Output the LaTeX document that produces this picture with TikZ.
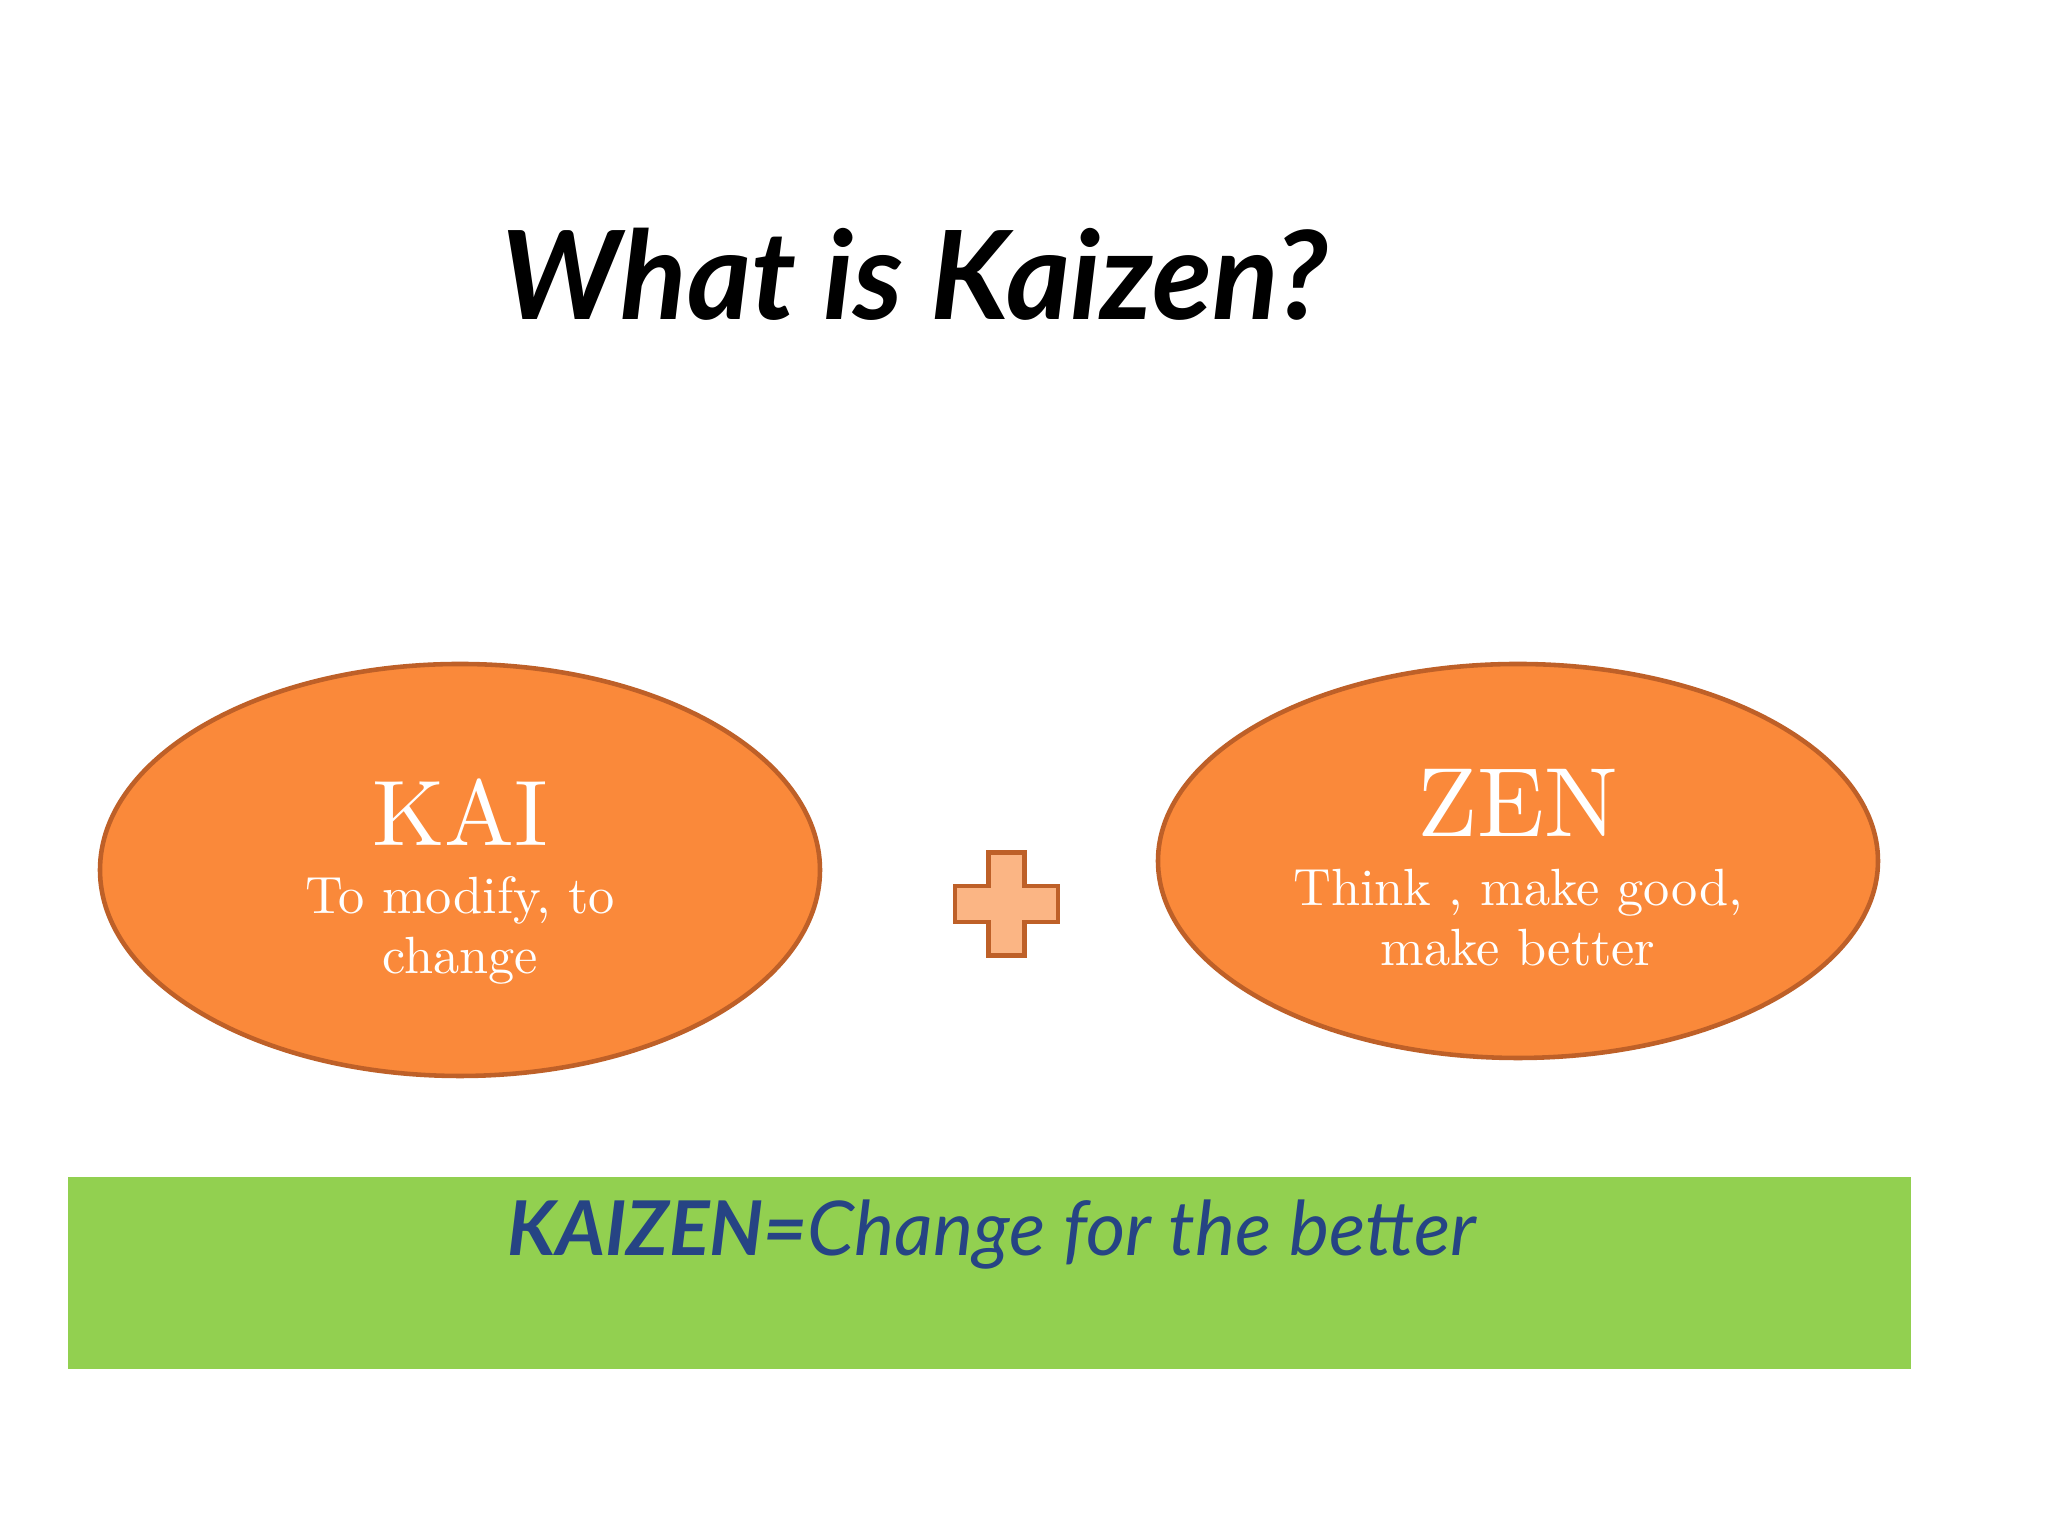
\documentclass[tikz,border=0pt]{standalone}
\usepackage{fontspec}
\newfontfamily\lmten{lmroman10-regular.otf}
\newfontfamily\lato{Lato}
\usetikzlibrary{shapes.geometric,calc}
\definecolor{orfill}{RGB}{250,137,58}
\definecolor{ordraw}{RGB}{190,96,40}
\definecolor{plusfill}{RGB}{251,181,132}
\definecolor{barfill}{RGB}{146,208,80}
\definecolor{bluetxt}{RGB}{38,68,132}
\tikzset{
  oval/.style={ellipse, fill=orfill, draw=ordraw, line width=1.3pt, inner sep=0pt},
  bigword/.style={text=white, anchor=base, font=\lmten\fontsize{28}{32}\selectfont},
  smallword/.style={text=white, anchor=base, font=\lmten\fontsize{14.9}{18}\selectfont},
}
\begin{document}
\begin{tikzpicture}[x=1cm,y=1cm]
\useasboundingbox (0,0) rectangle (20.48,15.36);
\fill[white] (0,0) rectangle (20.48,15.36);
% title
\node[anchor=base, font=\lato\bfseries\itshape\fontsize{35}{40}\selectfont] (title) at (9.15,12.16) {What is Kaizen?};
% ellipses
\node[oval, minimum width=7.20cm, minimum height=4.12cm] (kai) at (4.60,6.66) {};
\node[oval, minimum width=7.20cm, minimum height=3.94cm] (zen) at (15.18,6.75) {};
\node[bigword, font=\lmten\fontsize{26.5}{32}\selectfont] (kait) at (4.60,6.90) {KAI};
\node[smallword] (kai1) at (4.60,6.22) {To modify, to};
\node[smallword] (kai2) at (4.60,5.62) {change};
\node[bigword] (zent) at (15.18,6.99) {ZEN};
\node[smallword] (zen1) at (15.18,6.30) {Think , make good,};
\node[smallword] (zen2) at (15.18,5.70) {make better};
% plus
\coordinate (pc) at (10.065,6.32);
\filldraw[fill=plusfill, draw=ordraw, line width=1.3pt]
  ($(pc)+(-0.18,0.515)$) -- ($(pc)+(0.18,0.515)$) -- ($(pc)+(0.18,0.18)$) -- ($(pc)+(0.515,0.18)$)
  -- ($(pc)+(0.515,-0.18)$) -- ($(pc)+(0.18,-0.18)$) -- ($(pc)+(0.18,-0.515)$) -- ($(pc)+(-0.18,-0.515)$)
  -- ($(pc)+(-0.18,-0.18)$) -- ($(pc)+(-0.515,-0.18)$) -- ($(pc)+(-0.515,0.18)$) -- ($(pc)+(-0.18,0.18)$) -- cycle;
% green bar
\fill[barfill] (0.68,1.67) rectangle (19.11,3.59);
\node[anchor=base west, text=bluetxt, inner sep=0pt, font=\lato\itshape\fontsize{21.5}{25}\selectfont] (bar) at (5.07,2.80) {\textbf{KAIZEN=}Change for the better};
\end{tikzpicture}
\end{document}
